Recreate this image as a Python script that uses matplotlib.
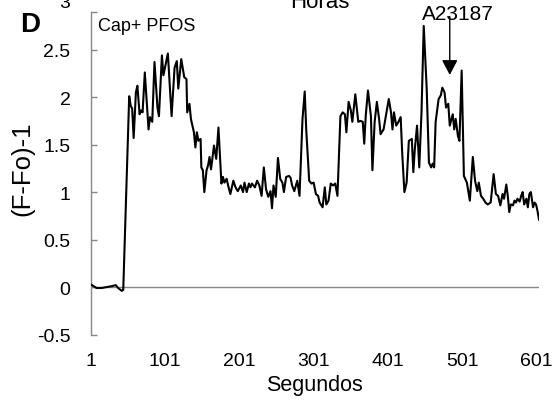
import matplotlib
matplotlib.use("Agg")
import matplotlib.pyplot as plt
from matplotlib.transforms import ScaledTranslation

plt.rcParams['font.family'] = ['Liberation Sans', 'DejaVu Sans']

seconds = [1, 5, 9, 16, 23, 30, 35, 38, 43, 45, 53, 55, 57, 59, 62, 64, 67, 69, 71, 74,
           79, 81, 84, 87, 91, 93, 97, 99, 105, 110, 114, 117, 119, 123, 127, 130, 131, 134, 136, 140,
           142, 144, 146, 149, 150, 152, 154, 157, 159, 161, 163, 167, 170, 173, 177, 179, 181, 184, 186, 189,
           193, 196, 199, 203, 206, 208, 211, 214, 216, 218, 222, 225, 228, 231, 234, 237, 240, 243, 245, 247,
           250, 253, 256, 259, 261, 264, 268, 270, 272, 275, 279, 282, 286, 289, 291, 295, 298, 301, 304, 307,
           309, 313, 316, 318, 321, 324, 327, 330, 333, 337, 340, 343, 345, 348, 351, 353, 357, 361, 364, 367,
           369, 371, 374, 378, 380, 383, 386, 389, 391, 395, 398, 402, 405, 407, 409, 412, 415, 418, 420, 423,
           426, 429, 433, 435, 437, 440, 443, 446, 449, 453, 456, 459, 461, 463, 465, 469, 472, 474, 477, 479,
           482, 484, 488, 490, 492, 495, 497, 500, 503, 507, 511, 515, 518, 521, 523, 526, 529, 532, 535, 539,
           543, 546, 549, 552, 555, 557, 560, 562, 564, 566, 569, 571, 573, 575, 578, 580, 582, 584, 587, 589,
           591, 593, 596, 598, 600, 602, 604]

ratio = [0.03, 0.01, -0.01, -0.01, 0.0, 0.01, 0.02, -0.01, -0.04, -0.03, 2.01, 1.91, 1.88, 1.57, 2.05, 2.12, 1.82, 1.86, 1.84, 2.26,
         1.66, 1.79, 1.74, 2.37, 1.89, 1.80, 2.44, 2.23, 2.46, 1.80, 2.31, 2.38, 2.09, 2.40, 2.21, 2.19, 1.84, 1.93, 1.77, 1.63,
         1.47, 1.63, 1.54, 1.56, 1.26, 1.23, 1.00, 1.23, 1.28, 1.37, 1.24, 1.49, 1.35, 1.68, 1.09, 1.16, 1.10, 1.14, 1.07, 0.98,
         1.12, 1.05, 1.01, 1.07, 1.00, 1.10, 1.00, 1.09, 1.05, 1.09, 1.05, 1.12, 1.07, 0.96, 1.26, 1.03, 0.95, 1.01, 0.83, 1.07,
         0.95, 1.36, 1.14, 1.10, 1.00, 1.16, 1.17, 1.15, 1.07, 1.01, 1.12, 0.96, 1.77, 2.06, 1.66, 1.12, 1.09, 1.10, 0.98, 0.96,
         0.89, 0.84, 1.05, 0.87, 0.91, 1.09, 1.07, 1.09, 0.96, 1.80, 1.84, 1.82, 1.63, 1.95, 1.86, 1.74, 2.03, 1.74, 1.75, 1.74,
         1.51, 1.80, 2.07, 1.80, 1.23, 1.74, 1.95, 1.77, 1.61, 1.66, 1.80, 1.98, 1.84, 1.66, 1.84, 1.70, 1.74, 1.79, 1.42, 1.00,
         1.10, 1.54, 1.56, 1.21, 1.45, 1.70, 1.26, 1.84, 2.75, 2.09, 1.31, 1.26, 1.30, 1.26, 1.74, 1.98, 2.02, 2.10, 2.05, 1.89,
         1.93, 1.70, 1.82, 1.66, 1.77, 1.59, 1.54, 2.28, 1.17, 1.10, 0.91, 1.37, 1.12, 1.01, 1.10, 0.96, 0.93, 0.89, 0.87, 0.89,
         1.19, 0.98, 0.96, 0.86, 0.98, 0.93, 1.08, 0.96, 0.79, 0.87, 0.86, 0.91, 0.89, 0.93, 0.90, 0.96, 1.00, 0.87, 0.93, 0.84,
         0.98, 1.00, 0.84, 0.89, 0.87, 0.80, 0.71]

xticks = [1, 101, 201, 301, 401, 501, 601]
xtick_labels = ["1", "101", "201", "301", "401", "501", "601"]
yticks = [-0.5, 0, 0.5, 1, 1.5, 2, 2.5]
ytick_labels = ["-0.5", "0", "0.5", "1", "1.5", "2", "2.5"]
ytop_label = "3"
arrow_x = 484
arrow_tip = 2.234
arrow_tail = 2.85

gray = '#878787'

fig = plt.figure(figsize=(5.55, 4.02), dpi=100)
ax = fig.add_axes([0.1631, 0.1654, 0.8081, 0.8030])

ax.plot(seconds, ratio, color='black', lw=1.5, zorder=3)
ax.axhline(0, color=gray, lw=1.0, zorder=2)

ax.set_xlim(1, 604)
ax.set_ylim(-0.5, 2.9)

for s in ['top', 'right', 'bottom']:
    ax.spines[s].set_visible(False)
ax.spines['left'].set_color(gray)
ax.spines['left'].set_linewidth(1.0)

ax.set_yticks(yticks)
ax.set_yticklabels(ytick_labels, fontsize=14)
ax.set_yticks([2.9], minor=True)
ax.tick_params(axis='y', which='both', direction='in', length=4.3, width=1.0, color=gray, pad=14.4)
ax.set_xticks(xticks)
ax.set_xticklabels(xtick_labels, fontsize=14)
ax.tick_params(axis='x', length=0, pad=12.8)

trans = ax.get_yaxis_transform() + ScaledTranslation(-0.20, 0, fig.dpi_scale_trans)
ax.text(0, 3.0, ytop_label, transform=trans, ha='right', va='center', fontsize=14, clip_on=False)

ax.set_xlabel("Segundos", fontsize=15.5, labelpad=3.6)
fig.text(22 / 555, 1 - 169 / 402, "(F-Fo)-1", rotation=90, ha='center', va='center', fontsize=18.5)
fig.text(320 / 555, 1 - 7.5 / 402, "Horas", ha='center', va='baseline', fontsize=16)
fig.text(30 / 555, 1 - 25 / 402, "D", ha='center', va='center', fontsize=20, fontweight='bold')
fig.text(97.5 / 555, 1 - 31 / 402, "Cap+ PFOS", ha='left', va='baseline', fontsize=13)
fig.text(458.3 / 555, 1 - 20 / 402, "A23187", ha='center', va='baseline', fontsize=15)

ax.annotate('', xy=(arrow_x, arrow_tip), xytext=(arrow_x, arrow_tail),
            arrowprops=dict(arrowstyle='-|>,head_length=0.91,head_width=0.48', color='black',
                            lw=1.0, shrinkA=0, shrinkB=0, mutation_scale=10),
            annotation_clip=False)

fig.savefig('out.png', dpi=100)
